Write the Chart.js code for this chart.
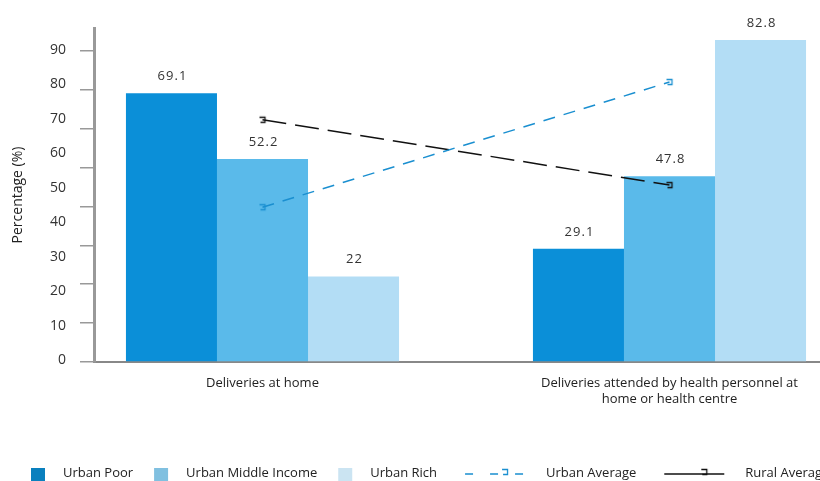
<!DOCTYPE html>
<html><head><meta charset="utf-8">
<script src="https://cdn.jsdelivr.net/npm/chart.js@4/dist/chart.umd.min.js"></script>
<style>html,body{margin:0;padding:0;overflow:hidden;background:#fff;width:820px;height:481px}</style>
</head><body>
<canvas id="c" width="860" height="481" style="display:block;width:860px;height:481px"></canvas>
<script>
// ---- data ----
const categories = ['Deliveries at home', 'Deliveries attended by health personnel at\nhome or health centre'];
const urbanPoor = [69.1, 29.1];
const urbanMiddle = [52.2, 47.8];
const urbanRich = [22, 82.8];
const urbanAverage = [39.8, 72.0];
const ruralAverage = [62.3, 45.5];
const yTickLabels = [0, 10, 20, 30, 40, 50, 60, 70, 80, 90];
const yTickMarks = [0, 10, 20, 30, 40, 50, 60, 70, 80];

const FONT = "'Open Sans', sans-serif";
Chart.defaults.font.family = FONT;

function toXY(arr) { return arr.map((v, i) => ({ x: i, y: v })); }

function markerCanvas(color) {
  const c = document.createElement('canvas');
  c.width = 10; c.height = 10;
  const g = c.getContext('2d');
  g.strokeStyle = color; g.lineWidth = 1.3;
  g.beginPath();
  g.moveTo(2, 2.5); g.lineTo(7.5, 2.5); g.lineTo(7.5, 7.5); g.lineTo(3, 7.5);
  g.stroke();
  return c;
}
const blueMarker = markerCanvas('#1a8fd0');
const blackMarker = markerCanvas('#111');

const dataLabelPlugin = {
  id: 'dataLabels',
  afterDatasetsDraw(chart) {
    const ctx = chart.ctx;
    ctx.save();
    ctx.font = "13px " + FONT;
    ctx.letterSpacing = '1px';
    ctx.fillStyle = '#333';
    ctx.textAlign = 'center';
    ctx.textBaseline = 'middle';
    chart.data.datasets.forEach((ds, di) => {
      if (ds.type !== 'bar') return;
      const meta = chart.getDatasetMeta(di);
      meta.data.forEach((el, i) => {
        ctx.fillText(String(ds.data[i].y), el.x + 1, el.y - 17);
      });
    });
    ctx.restore();
  }
};

const legendPlugin = {
  id: 'customLegend',
  afterDraw(chart) {
    const ctx = chart.ctx;
    ctx.save();
    ctx.font = "13px " + FONT;
    ctx.textBaseline = 'middle';
    ctx.textAlign = 'left';
    const cy = 473;
    let x = 31;
    const dsList = chart.data.datasets;
    dsList.forEach((ds, idx) => {
      if (ds.type === 'bar') {
        ctx.fillStyle = ds.legendColor;
        ctx.fillRect(x, cy - 5, 14, 14);
        x += 14 + 18;
      } else {
        ctx.strokeStyle = ds.borderColor;
        ctx.lineWidth = 1.3;
        ctx.setLineDash(ds.legendDash);
        ctx.beginPath();
        ctx.moveTo(x, cy + 1); ctx.lineTo(x + 60, cy + 1);
        ctx.stroke();
        ctx.setLineDash([]);
        ctx.drawImage(ds.pointStyle, x + 35, cy - 6);
        x += 60 + 21;
      }
      ctx.fillStyle = '#222';
      ctx.fillText(ds.label, x, cy);
      const next = dsList[idx + 1];
      x += ctx.measureText(ds.label).width + (next && next.type === 'line' ? 28 : 21);
    });
    ctx.restore();
  }
};

new Chart(document.getElementById('c'), {
  type: 'bar',
  data: {
    datasets: [
      { type: 'bar', label: 'Urban Poor', data: toXY(urbanPoor), backgroundColor: '#0b8fd8', legendColor: '#0a80be', categoryPercentage: 0.671, barPercentage: 1, xAxisID: 'x', yAxisID: 'y' },
      { type: 'bar', label: 'Urban Middle Income', data: toXY(urbanMiddle), backgroundColor: '#5abaea', legendColor: '#80c0e0', categoryPercentage: 0.671, barPercentage: 1, xAxisID: 'x', yAxisID: 'y' },
      { type: 'bar', label: 'Urban Rich', data: toXY(urbanRich), backgroundColor: '#b3ddf5', legendColor: '#cbe4f2', categoryPercentage: 0.671, barPercentage: 1, xAxisID: 'x', yAxisID: 'y' },
      { type: 'line', label: 'Urban Average', data: toXY(urbanAverage), borderColor: '#1a8fd0', borderWidth: 1.5, borderDash: [12, 9], legendDash: [8, 17], pointStyle: blueMarker, pointRadius: 5, fill: false, tension: 0, order: -1, xAxisID: 'x', yAxisID: 'y' },
      { type: 'line', label: 'Rural Average', data: toXY(ruralAverage), borderColor: '#111', borderWidth: 1.5, borderDash: [24, 9], legendDash: [], pointStyle: blackMarker, pointRadius: 5, fill: false, tension: 0, order: -1, xAxisID: 'x', yAxisID: 'y' }
    ]
  },
  options: {
    responsive: false,
    animation: false,
    devicePixelRatio: 1,
    layout: { padding: { top: 28, bottom: 59, left: 0, right: 10 } },
    plugins: { legend: { display: false }, tooltip: { enabled: false } },
    scales: {
      x: {
        type: 'linear', position: 'bottom', min: -0.414, max: 1.4435, offset: false,
        grid: { display: false, drawTicks: false, offset: false },
        border: { display: true, color: '#888', width: 2 },
        afterBuildTicks: s => { s.ticks = categories.map((c, i) => ({ value: i })); },
        afterFit: s => { s.height = 60; },
        ticks: {
          autoSkip: false, maxRotation: 0, minRotation: 0, padding: 13,
          color: '#222', font: { size: 13, lineHeight: 1.25 },
          callback: v => (categories[v] !== undefined ? categories[v].split('\n') : '')
        }
      },
      yl: {
        type: 'linear', position: 'left', weight: 10, min: -0.58, max: 96.4,
        grid: { display: false, drawTicks: false, tickLength: 0 },
        border: { display: false },
        afterBuildTicks: s => { s.ticks = yTickLabels.map(v => ({ value: v })); },
        afterFit: s => { s.width = 80; },
        ticks: { padding: 14, color: '#333', font: { size: 14 } },
        title: { display: true, text: 'Percentage (%)', color: '#222', font: { size: 14 }, padding: { top: 10, bottom: 0 } }
      },
      y: {
        type: 'linear', position: 'left', weight: 0, min: 0, max: 85.9,
        grid: { display: true, drawOnChartArea: false, drawTicks: true, tickLength: 14, color: '#999', lineWidth: 1.5 },
        border: { display: true, color: '#999', width: 3 },
        afterBuildTicks: s => { s.ticks = yTickMarks.map(v => ({ value: v })); },
        afterFit: s => { s.width = 14; },
        ticks: { display: false }
      }
    }
  },
  plugins: [dataLabelPlugin, legendPlugin]
});
</script>
</body></html>
